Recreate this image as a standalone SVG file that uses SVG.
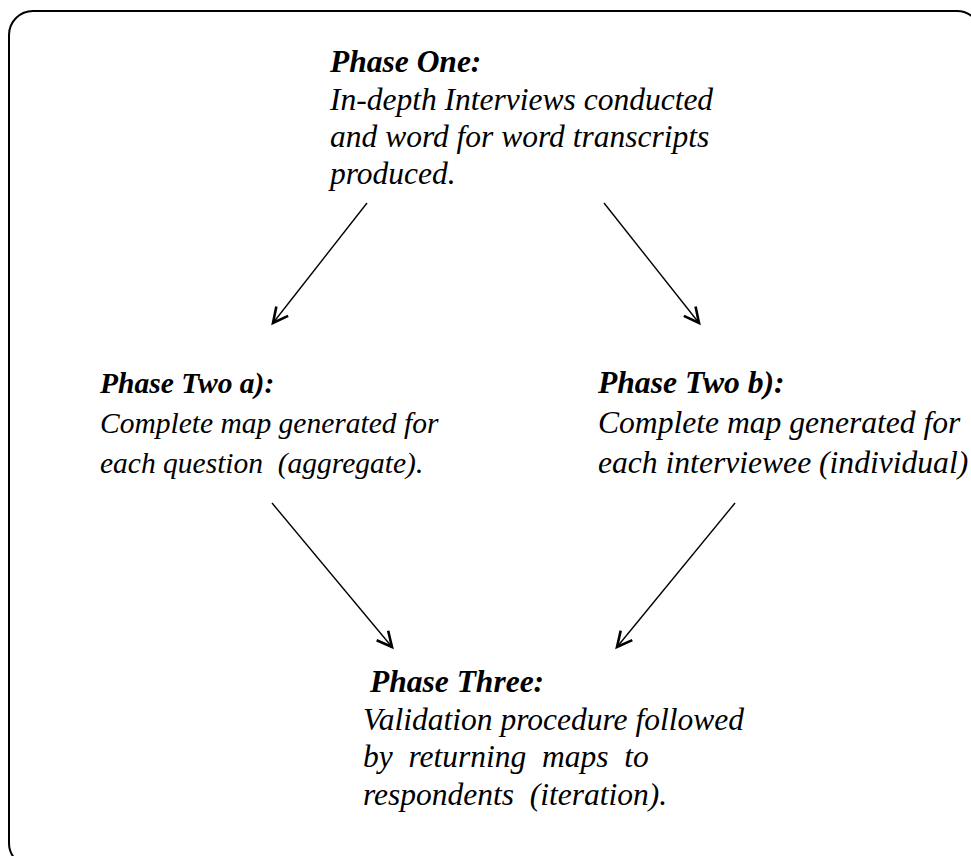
<svg xmlns="http://www.w3.org/2000/svg" width="971" height="856" viewBox="0 0 971 856">
<style>
  text { font-family: "Liberation Serif", "Times New Roman", serif; font-size: 31.5px; font-style: italic; fill: #000; white-space: pre; }
  .h { font-weight: bold; }
  #phase-two-a text { font-size: 29.5px; }
  #phase-two-b text { font-size: 31.6px; }
  .conn line { stroke: #000; stroke-width: 1.4; fill: none; marker-end: url(#arr); }
  .frame { fill: #fff; stroke: #000; stroke-width: 2; }
</style>
<defs>
  <marker id="arr" markerUnits="userSpaceOnUse" markerWidth="26" markerHeight="26" refX="0" refY="0" viewBox="-21 -13 26 26" orient="auto">
    <path d="M-15,-7.5 L0,0 L-15,7.5" fill="none" stroke="#000" stroke-width="2.6" stroke-linejoin="miter" stroke-miterlimit="10"/>
  </marker>
</defs>
<rect x="0" y="0" width="971" height="856" fill="#fff"/>
<rect class="frame" x="9" y="11" width="972" height="856" rx="24" ry="24"/>
<g id="phase-one">
  <text x="330" y="72" class="h">Phase One:</text>
  <text x="330" y="110">In-depth Interviews conducted</text>
  <text x="330" y="147">and word for word transcripts</text>
  <text x="330" y="184">produced.</text>
</g>
<g id="phase-two-a">
  <text x="100" y="393" class="h">Phase Two a):</text>
  <text x="100" y="433">Complete map generated for</text>
  <text x="100" y="473">each question  (aggregate).</text>
</g>
<g id="phase-two-b">
  <text x="598" y="393" class="h">Phase Two b):</text>
  <text x="598" y="433">Complete map generated for</text>
  <text x="598" y="473">each interviewee (individual)</text>
</g>
<g id="phase-three">
  <text x="370" y="692" class="h">Phase Three:</text>
  <text x="363" y="730">Validation procedure followed</text>
  <text x="363" y="767">by  returning  maps  to</text>
  <text x="363" y="805">respondents  (iteration).</text>
</g>
<g class="conn" id="connectors">
  <line x1="367" y1="203" x2="273" y2="323"/>
  <line x1="604" y1="203" x2="699" y2="323"/>
  <line x1="272" y1="503" x2="392" y2="647"/>
  <line x1="735" y1="503" x2="617" y2="647"/>
</g>
</svg>
